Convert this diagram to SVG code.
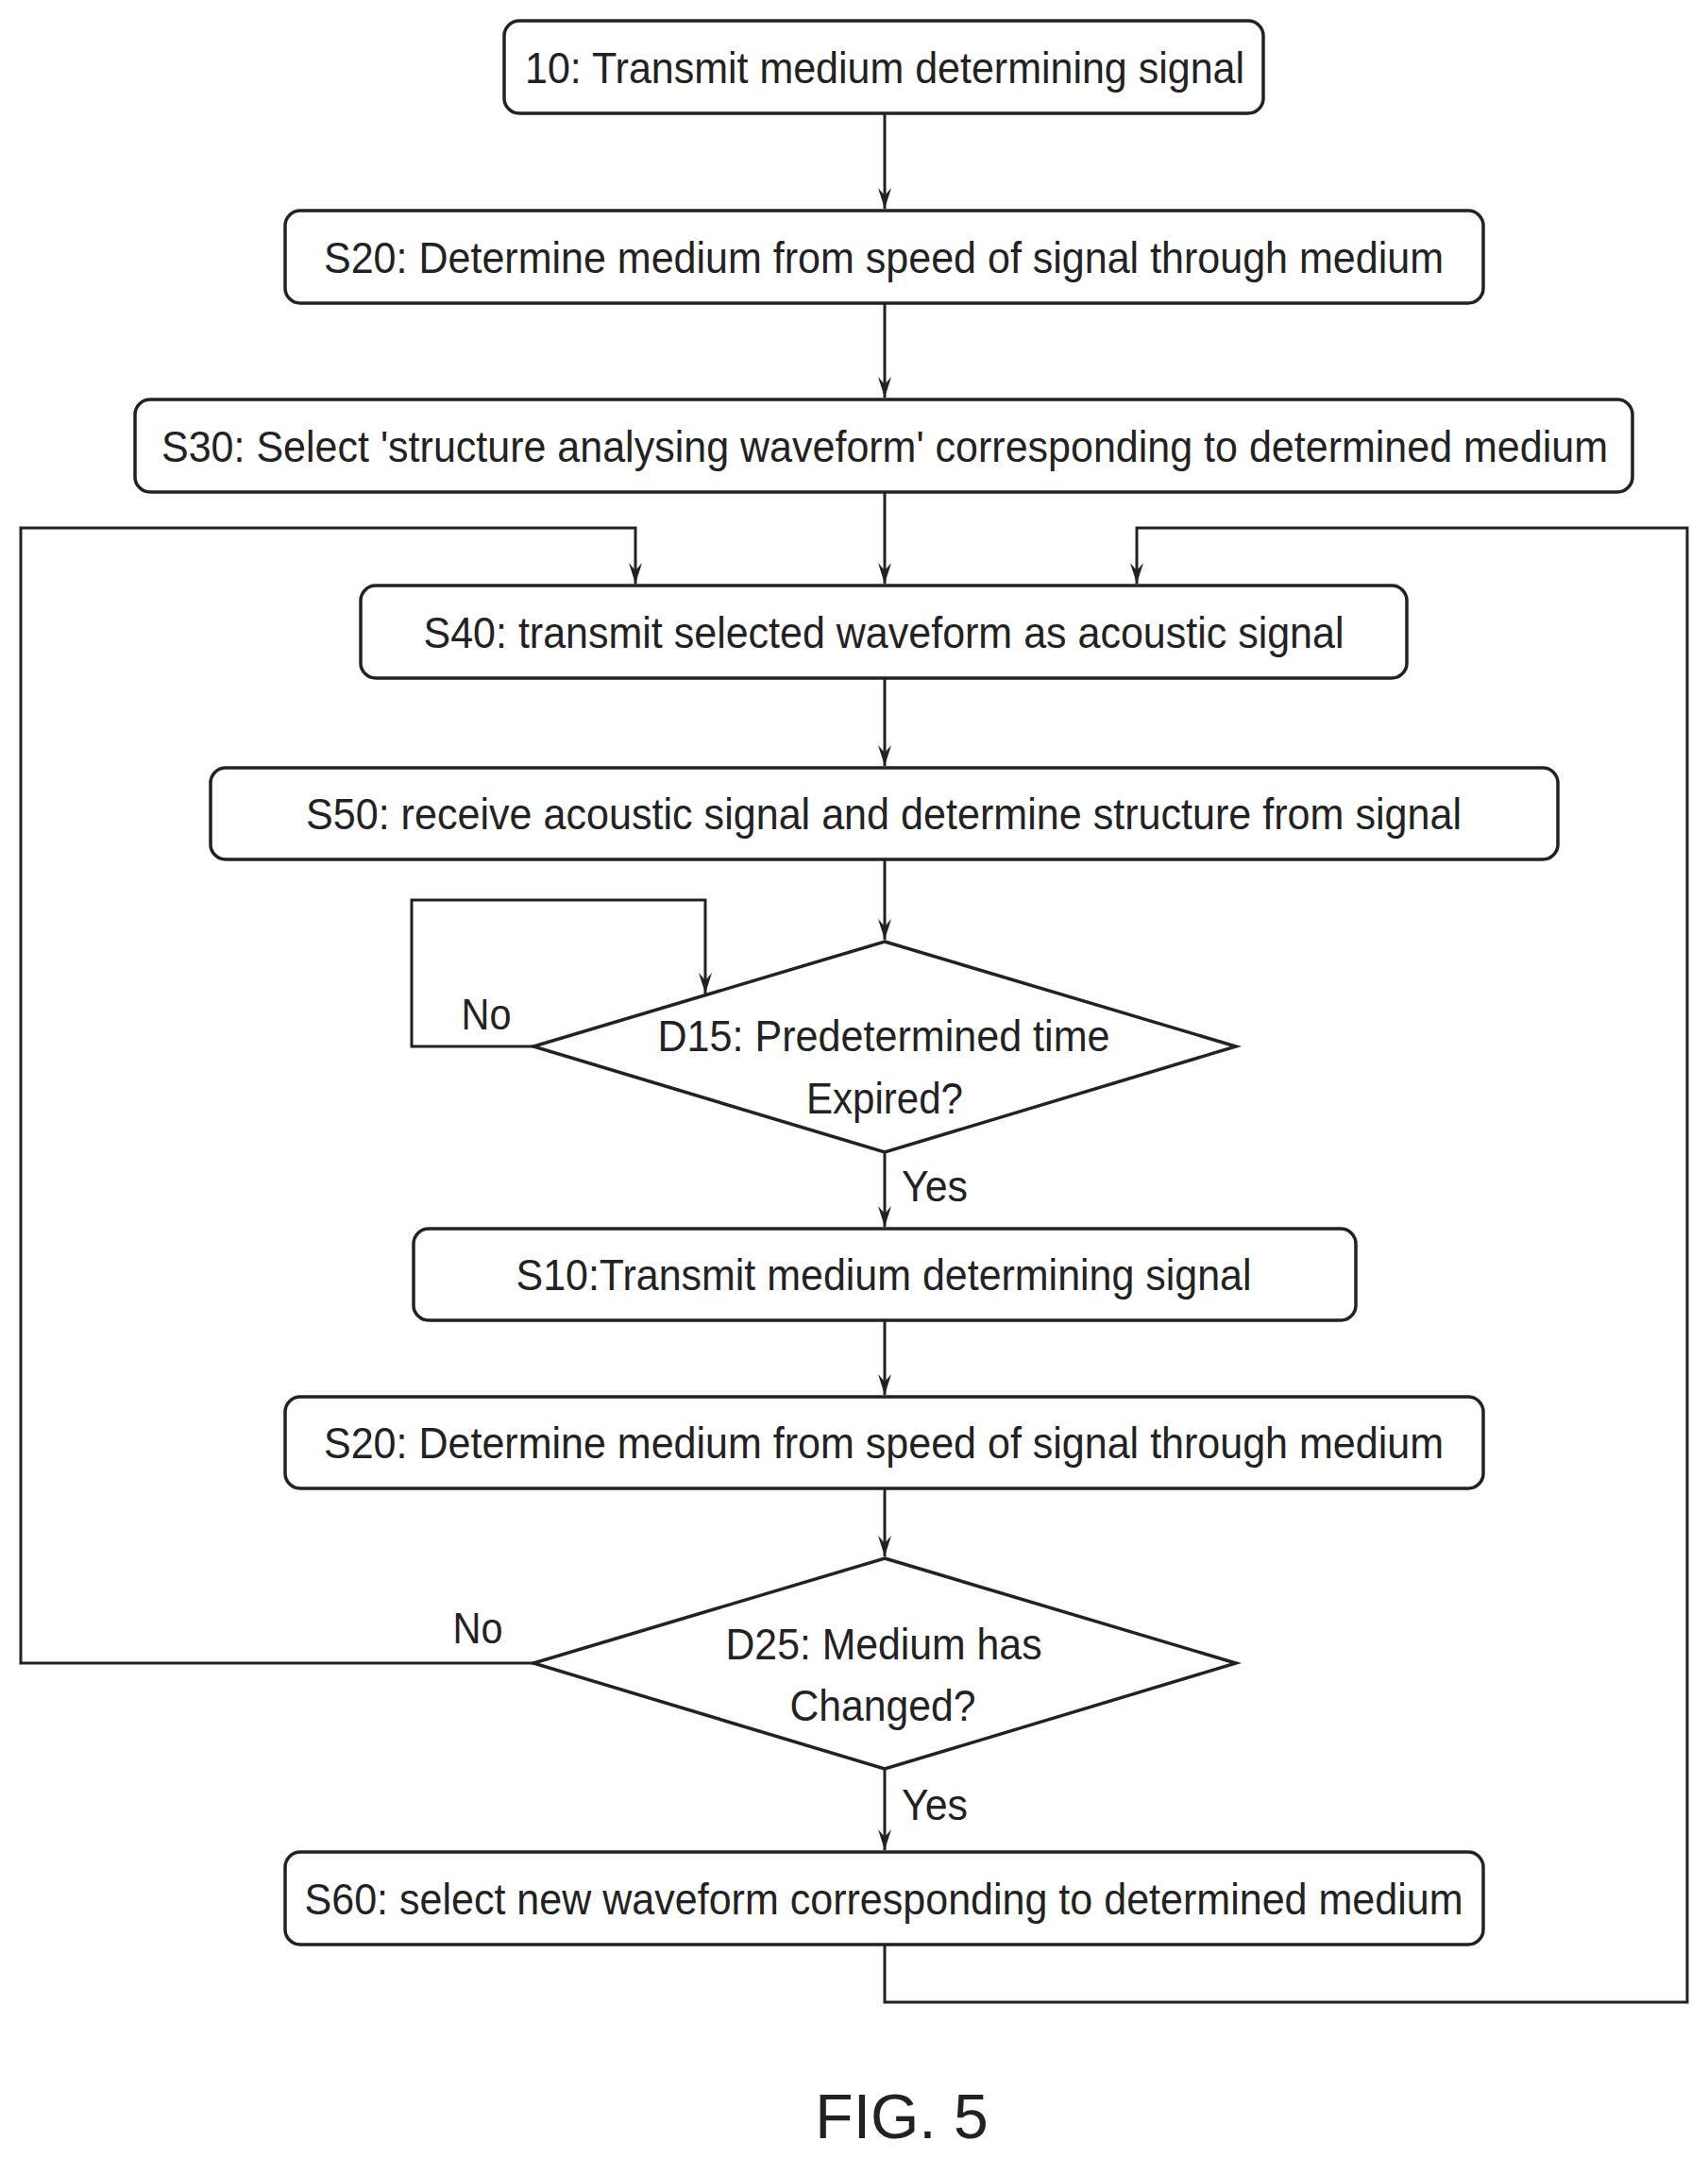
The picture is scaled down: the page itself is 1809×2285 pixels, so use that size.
<svg xmlns="http://www.w3.org/2000/svg" width="1809" height="2285" viewBox="0 0 1809 2285">
<style>
.b{fill:#fff;stroke:#222;stroke-width:3.5}
.t{font-family:"Liberation Sans",Arial,sans-serif;font-size:46px;fill:#222;text-anchor:middle}
.c{fill:none;stroke:#222;stroke-width:3}
</style>
<defs><marker id="a" markerWidth="24" markerHeight="14" refX="22" refY="7" orient="auto" markerUnits="userSpaceOnUse" viewBox="0 0 24 14"><path d="M0,0 L22,7 L0,14 L8,7 Z" fill="#222"/></marker></defs>
<rect width="1809" height="2285" fill="#fff"/>
<g id="n10"><rect class="b" x="534" y="22" width="804" height="98" rx="16"/><text class="t" x="937" y="88" textLength="762" lengthAdjust="spacingAndGlyphs">10: Transmit medium determining signal</text></g>
<g id="s20a"><rect class="b" x="302" y="223" width="1269" height="98" rx="16"/><text class="t" x="936" y="289" textLength="1186" lengthAdjust="spacingAndGlyphs">S20: Determine medium from speed of signal through medium</text></g>
<g id="s30"><rect class="b" x="143" y="423" width="1586" height="98" rx="16"/><text class="t" x="937" y="489" textLength="1532" lengthAdjust="spacingAndGlyphs">S30: Select 'structure analysing waveform' corresponding to determined medium</text></g>
<g id="s40"><rect class="b" x="382" y="620" width="1108" height="98" rx="16"/><text class="t" x="936" y="686" textLength="975" lengthAdjust="spacingAndGlyphs">S40: transmit selected waveform as acoustic signal</text></g>
<g id="s50"><rect class="b" x="223" y="813" width="1427" height="97" rx="16"/><text class="t" x="936" y="878" textLength="1224" lengthAdjust="spacingAndGlyphs">S50: receive acoustic signal and determine structure from signal</text></g>
<g id="d15"><path class="b" d="M937,997 L1309,1108 L937,1220 L565,1108 Z"/><text class="t" x="936" y="1113" textLength="479" lengthAdjust="spacingAndGlyphs">D15: Predetermined time</text><text class="t" x="937" y="1179" textLength="166" lengthAdjust="spacingAndGlyphs">Expired?</text><text class="t" x="515" y="1090" textLength="53" lengthAdjust="spacingAndGlyphs">No</text><text class="t" x="990" y="1272" textLength="70" lengthAdjust="spacingAndGlyphs">Yes</text></g>
<g id="s10"><rect class="b" x="438" y="1301" width="998" height="97" rx="16"/><text class="t" x="936" y="1366" textLength="779" lengthAdjust="spacingAndGlyphs">S10:Transmit medium determining signal</text></g>
<g id="s20b"><rect class="b" x="302" y="1479" width="1269" height="97" rx="16"/><text class="t" x="936" y="1544" textLength="1186" lengthAdjust="spacingAndGlyphs">S20: Determine medium from speed of signal through medium</text></g>
<g id="d25"><path class="b" d="M937,1650 L1309,1761 L937,1873 L565,1761 Z"/><text class="t" x="936" y="1757" textLength="335" lengthAdjust="spacingAndGlyphs">D25: Medium has</text><text class="t" x="935" y="1822" textLength="197" lengthAdjust="spacingAndGlyphs">Changed?</text><text class="t" x="506" y="1740" textLength="53" lengthAdjust="spacingAndGlyphs">No</text><text class="t" x="990" y="1927" textLength="70" lengthAdjust="spacingAndGlyphs">Yes</text></g>
<g id="s60"><rect class="b" x="302" y="1961" width="1269" height="98" rx="16"/><text class="t" x="936" y="2027" textLength="1227" lengthAdjust="spacingAndGlyphs">S60: select new waveform corresponding to determined medium</text></g>
<text class="t" x="955" y="2264" style="font-size:66px">FIG. 5</text>
<g id="connectors">
<path class="c" d="M937,120 V221" marker-end="url(#a)"/>
<path class="c" d="M937,321 V421" marker-end="url(#a)"/>
<path class="c" d="M937,521 V618" marker-end="url(#a)"/>
<path class="c" d="M937,718 V811" marker-end="url(#a)"/>
<path class="c" d="M937,910 V995" marker-end="url(#a)"/>
<path class="c" d="M565,1108 H436 V953 H747 V1052" marker-end="url(#a)"/>
<path class="c" d="M937,1220 V1299" marker-end="url(#a)"/>
<path class="c" d="M937,1398 V1477" marker-end="url(#a)"/>
<path class="c" d="M937,1576 V1648" marker-end="url(#a)"/>
<path class="c" d="M937,1873 V1959" marker-end="url(#a)"/>
<path class="c" d="M565,1761 H22 V559 H673 V618" marker-end="url(#a)"/>
<path class="c" d="M937,2059 V2120 H1787 V559 H1204 V618" marker-end="url(#a)"/>
</g>
</svg>
